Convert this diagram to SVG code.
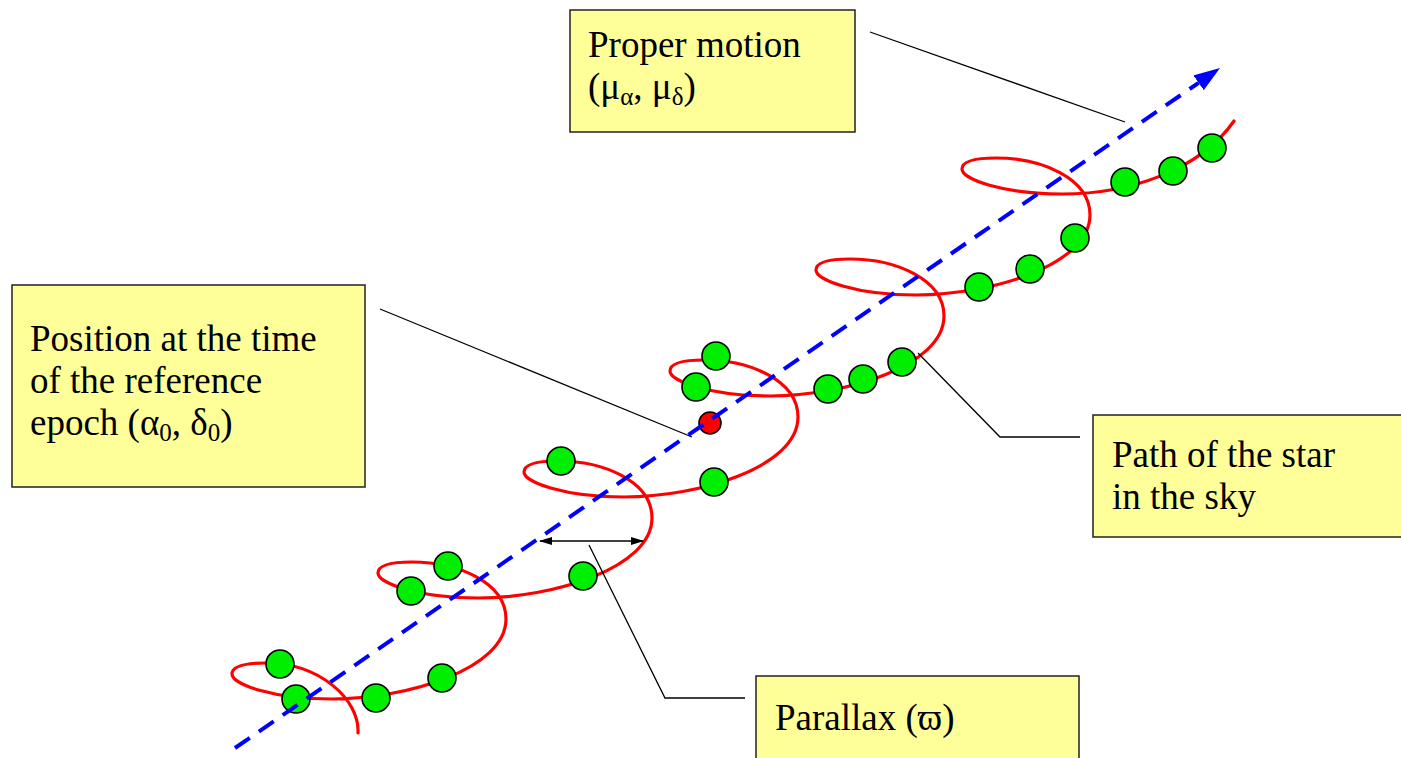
<svg xmlns="http://www.w3.org/2000/svg" width="1401" height="758" viewBox="0 0 1401 758">
<defs>
<style>
.box{fill:#ffff99;stroke:#222;stroke-width:1.5}
.lbl{font-family:"Liberation Serif","Times New Roman",serif;font-size:37px;fill:#000}
.sub{font-size:25px}
.lead{fill:none;stroke:#000;stroke-width:1.3}
.pos{fill:#00ee00;stroke:#000;stroke-width:1.6}
.path{fill:none;stroke:#ff0000;stroke-width:3.2;stroke-linecap:round}
</style>
<marker id="blueHead" markerUnits="userSpaceOnUse" markerWidth="30" markerHeight="20" refX="0" refY="9" orient="auto">
<path d="M0,0 L26,9 L0,18 z" fill="#0000ff"/>
</marker>
<marker id="blkHead" markerUnits="userSpaceOnUse" markerWidth="14" markerHeight="10" refX="12" refY="4" orient="auto-start-reverse">
<path d="M0,0 L13,4 L0,8 z" fill="#000"/>
</marker>
</defs>
<rect width="1401" height="758" fill="#fff"/>

<g id="star-path">
<path class="path" d="M358,733 C360,700 320,663 266,663 c-25,0 -34,4 -34,11
c0,10 40,25 100,25 c75,0 174,-30 174,-80 c0,-37 -49,-57 -94,-57 c-25,0 -34,4 -34,11
c0,10 40,25 100,25 c75,0 174,-30 174,-80 c0,-37 -49,-57 -94,-57 c-25,0 -34,4 -34,11
c0,10 40,25 100,25 c75,0 174,-30 174,-80 c0,-37 -49,-57 -94,-57 c-25,0 -34,4 -34,11
c0,10 40,25 100,25 c75,0 174,-30 174,-80 c0,-37 -49,-57 -94,-57 c-25,0 -34,4 -34,11
c0,10 40,25 100,25 c75,0 174,-30 174,-80 c0,-37 -49,-57 -94,-57 c-25,0 -34,4 -34,11
c0,10 40,25 100,25 C1130,194 1200,170 1234,121"/>
</g>

<g id="positions">
<circle class="pos" cx="280" cy="664" r="14"/>
<circle class="pos" cx="296" cy="699" r="14"/>
<circle class="pos" cx="376" cy="698" r="14"/>
<circle class="pos" cx="442" cy="678" r="14"/>
<circle class="pos" cx="448" cy="566" r="14"/>
<circle class="pos" cx="411" cy="591" r="14"/>
<circle class="pos" cx="583" cy="576" r="14"/>
<circle class="pos" cx="561" cy="461" r="14"/>
<circle class="pos" cx="714" cy="482" r="14"/>
<circle class="pos" cx="716" cy="356" r="14"/>
<circle class="pos" cx="696" cy="387" r="14"/>
<circle class="pos" cx="828" cy="389" r="14"/>
<circle class="pos" cx="863" cy="379" r="14"/>
<circle class="pos" cx="902" cy="362" r="14"/>
<circle class="pos" cx="979" cy="287" r="14"/>
<circle class="pos" cx="1030" cy="269" r="14"/>
<circle class="pos" cx="1075" cy="238" r="14"/>
<circle class="pos" cx="1125" cy="182" r="14"/>
<circle class="pos" cx="1173" cy="171" r="14"/>
<circle class="pos" cx="1212" cy="148" r="14"/>
<circle id="ref-epoch" cx="710" cy="423" r="11" fill="#ff0000" stroke="#000" stroke-width="1.6"/>
</g>

<g id="connectors">
<line x1="235" y1="748" x2="1198.6" y2="82.8" stroke="#0000ff" stroke-width="4" stroke-dasharray="18 11" marker-end="url(#blueHead)"/>
<line x1="540" y1="541" x2="643" y2="541" stroke="#000" stroke-width="1.5" marker-start="url(#blkHead)" marker-end="url(#blkHead)"/>
<polyline class="lead" points="870,32 1125,122"/>
<polyline class="lead" points="380,309 692,437"/>
<polyline class="lead" points="918,353 1000,437 1080,437"/>
<polyline class="lead" points="589,545 665,698 745,698"/>
</g>

<g id="proper-motion">
<rect class="box" x="570" y="10" width="285" height="122"/>
<text class="lbl" x="588" y="57">Proper motion</text>
<text class="lbl" x="588" y="99">(μ<tspan class="sub" dy="6">α</tspan><tspan dy="-6">, μ</tspan><tspan class="sub" dy="6">δ</tspan><tspan dy="-6">)</tspan></text>
</g>

<g id="reference-position">
<rect class="box" x="12" y="285" width="353" height="202"/>
<text class="lbl" x="30" y="351">Position at the time</text>
<text class="lbl" x="30" y="393">of the reference</text>
<text class="lbl" x="30" y="435">epoch (α<tspan class="sub" dy="6">0</tspan><tspan dy="-6">, δ</tspan><tspan class="sub" dy="6">0</tspan><tspan dy="-6">)</tspan></text>
</g>

<g id="path-label">
<rect class="box" x="1093" y="415" width="320" height="122"/>
<text class="lbl" x="1112" y="467">Path of the star</text>
<text class="lbl" x="1112" y="509">in the sky</text>
</g>

<g id="parallax-label">
<rect class="box" x="756" y="676" width="323" height="100"/>
<text class="lbl" x="775" y="730">Parallax (ϖ)</text>
</g>
</svg>
